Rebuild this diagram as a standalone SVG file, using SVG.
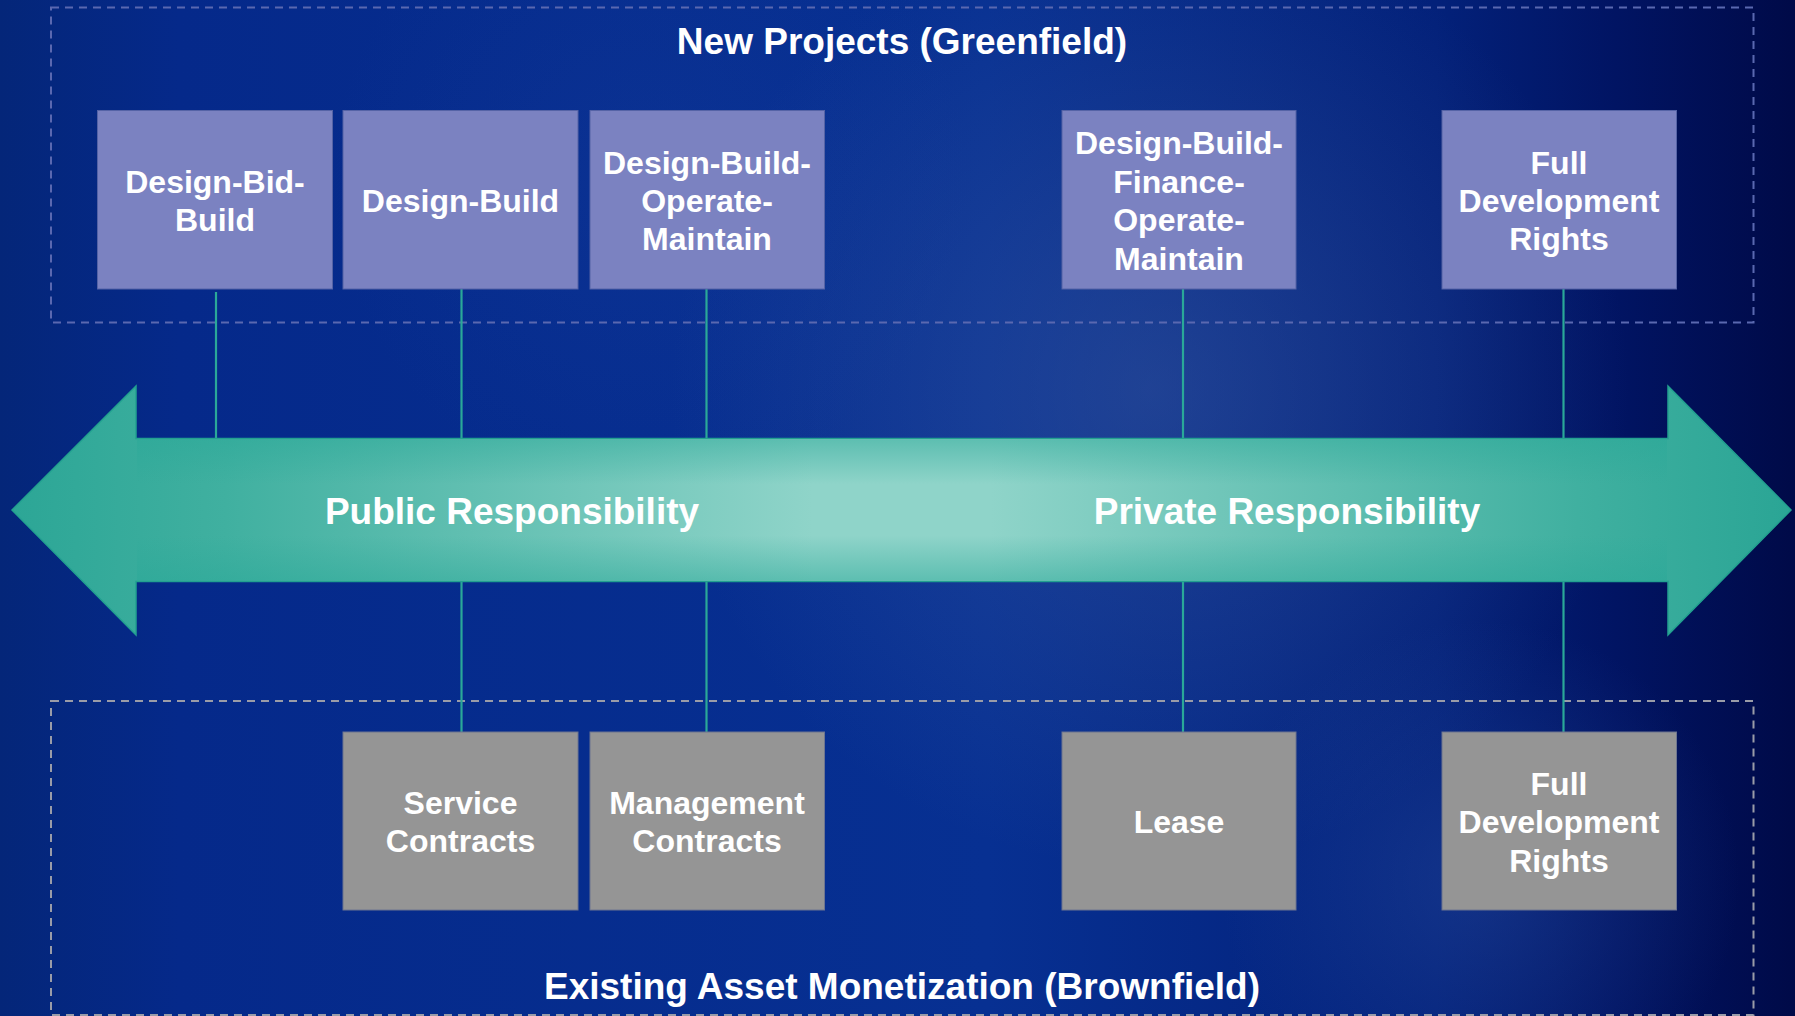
<svg xmlns="http://www.w3.org/2000/svg" width="1795" height="1016" viewBox="0 0 1795 1016">
  <defs>
    <linearGradient id="bgBase" x1="0" y1="0" x2="1795" y2="0" gradientUnits="userSpaceOnUse">
      <stop offset="0" stop-color="#042679"/>
      <stop offset="0.1" stop-color="#05298a"/>
      <stop offset="0.55" stop-color="#073092"/>
      <stop offset="0.8" stop-color="#03217a"/>
      <stop offset="0.9" stop-color="#011463"/>
      <stop offset="1" stop-color="#000a48"/>
    </linearGradient>
    <radialGradient id="glowMid" cx="1150" cy="390" r="480" gradientUnits="userSpaceOnUse">
      <stop offset="0" stop-color="#4a68a6" stop-opacity="0.38"/>
      <stop offset="1" stop-color="#4a68a6" stop-opacity="0"/>
    </radialGradient>
    <radialGradient id="glowLow" cx="1480" cy="880" r="260" gradientUnits="userSpaceOnUse">
      <stop offset="0" stop-color="#3158aa" stop-opacity="0.35"/>
      <stop offset="1" stop-color="#3158aa" stop-opacity="0"/>
    </radialGradient>
    <radialGradient id="glowTop" cx="650" cy="180" r="320" gradientUnits="userSpaceOnUse">
      <stop offset="0" stop-color="#1a40a0" stop-opacity="0.25"/>
      <stop offset="1" stop-color="#1a40a0" stop-opacity="0"/>
    </radialGradient>
    <linearGradient id="arrowFill" x1="12" y1="0" x2="1791" y2="0" gradientUnits="userSpaceOnUse">
      <stop offset="0" stop-color="#2ca696"/>
      <stop offset="0.12" stop-color="#40b0a0"/>
      <stop offset="0.45" stop-color="#8fd4c9"/>
      <stop offset="0.55" stop-color="#8fd4c9"/>
      <stop offset="0.88" stop-color="#40b0a0"/>
      <stop offset="1" stop-color="#2aa595"/>
    </linearGradient>
    <linearGradient id="shaftShade" x1="0" y1="438.5" x2="0" y2="581.5" gradientUnits="userSpaceOnUse">
      <stop offset="0" stop-color="#2aa898" stop-opacity="0.5"/>
      <stop offset="0.32" stop-color="#2aa898" stop-opacity="0"/>
      <stop offset="0.68" stop-color="#2aa898" stop-opacity="0"/>
      <stop offset="1" stop-color="#2aa898" stop-opacity="0.5"/>
    </linearGradient>
    <style>
      text { font-family: "Liberation Sans", Arial, sans-serif; font-weight: bold; fill: #ffffff; text-anchor: middle; }
      .box-new { fill: #7b82c1; stroke: #5563a6; stroke-width: 1; }
      .box-old { fill: #959595; stroke: #6d7590; stroke-width: 1; }
      .lbl { font-size: 32px; }
      .title { font-size: 37px; }
      .resp { font-size: 37px; }
      .frame-top { fill: none; stroke: #5a68b0; stroke-width: 2; stroke-dasharray: 8 6; }
      .frame-bottom { fill: none; stroke: #9a9ca8; stroke-width: 2; stroke-dasharray: 8 6; }
      .conn { stroke: #2aa898; stroke-width: 2.2; fill: none; }
    </style>
  </defs>

  <!-- background -->
  <rect x="0" y="0" width="1795" height="1016" fill="url(#bgBase)"/>
  <rect x="0" y="0" width="1795" height="1016" fill="url(#glowTop)"/>
  <rect x="0" y="0" width="1795" height="1016" fill="url(#glowMid)"/>
  <rect x="0" y="0" width="1795" height="1016" fill="url(#glowLow)"/>

  <!-- dashed group frames -->
  <g id="frame-greenfield">
    <rect class="frame-top" x="51" y="7.5" width="1702.5" height="315"/>
    <text class="title" x="902" y="54">New Projects (Greenfield)</text>
  </g>
  <g id="frame-brownfield">
    <rect class="frame-bottom" x="51" y="701" width="1702.5" height="314"/>
    <text class="title" x="902" y="999">Existing Asset Monetization (Brownfield)</text>
  </g>

  <!-- connectors -->
  <g id="connectors">
    <line class="conn" x1="216" y1="292" x2="216" y2="438.5"/>
    <line class="conn" x1="461.5" y1="289" x2="461.5" y2="438.5"/>
    <line class="conn" x1="706.5" y1="289" x2="706.5" y2="438.5"/>
    <line class="conn" x1="1183" y1="289" x2="1183" y2="438.5"/>
    <line class="conn" x1="1563.5" y1="289" x2="1563.5" y2="438.5"/>
    <line class="conn" x1="461.5" y1="581.5" x2="461.5" y2="732"/>
    <line class="conn" x1="706.5" y1="581.5" x2="706.5" y2="732"/>
    <line class="conn" x1="1183" y1="581.5" x2="1183" y2="732"/>
    <line class="conn" x1="1563.5" y1="581.5" x2="1563.5" y2="732"/>
  </g>

  <!-- double-headed responsibility arrow -->
  <g id="responsibility-arrow">
    <polygon points="12,510 136,386 136,438.5 1668,438.5 1668,386 1791,510 1668,635 1668,581.5 136,581.5 136,635" fill="url(#arrowFill)" stroke="#22a090" stroke-width="1.5"/>
    <rect x="137" y="439.5" width="1530" height="141" fill="url(#shaftShade)"/>
    <text class="resp" x="512" y="524">Public Responsibility</text>
    <text class="resp" x="1287" y="524">Private Responsibility</text>
  </g>

  <!-- greenfield delivery models -->
  <g id="design-bid-build">
    <rect class="box-new" x="97.5" y="110.5" width="235" height="178.5"/>
    <text class="lbl" x="215" y="192.8">Design-Bid-</text>
    <text class="lbl" x="215" y="231.2">Build</text>
  </g>
  <g id="design-build">
    <rect class="box-new" x="343" y="110.5" width="235" height="178.5"/>
    <text class="lbl" x="460.5" y="212">Design-Build</text>
  </g>
  <g id="design-build-operate-maintain">
    <rect class="box-new" x="590" y="110.5" width="234.5" height="178.5"/>
    <text class="lbl" x="707" y="173.6">Design-Build-</text>
    <text class="lbl" x="707" y="212">Operate-</text>
    <text class="lbl" x="707" y="250.4">Maintain</text>
  </g>
  <g id="design-build-finance-operate-maintain">
    <rect class="box-new" x="1062" y="110.5" width="234" height="178.5"/>
    <text class="lbl" x="1179" y="154.4">Design-Build-</text>
    <text class="lbl" x="1179" y="192.8">Finance-</text>
    <text class="lbl" x="1179" y="231.2">Operate-</text>
    <text class="lbl" x="1179" y="269.6">Maintain</text>
  </g>
  <g id="full-development-rights-new">
    <rect class="box-new" x="1442" y="110.5" width="234.5" height="178.5"/>
    <text class="lbl" x="1559" y="173.6">Full</text>
    <text class="lbl" x="1559" y="212">Development</text>
    <text class="lbl" x="1559" y="250.4">Rights</text>
  </g>

  <!-- brownfield monetization models -->
  <g id="service-contracts">
    <rect class="box-old" x="343" y="732" width="235" height="178"/>
    <text class="lbl" x="460.5" y="814">Service</text>
    <text class="lbl" x="460.5" y="852.4">Contracts</text>
  </g>
  <g id="management-contracts">
    <rect class="box-old" x="590" y="732" width="234.5" height="178"/>
    <text class="lbl" x="707" y="814">Management</text>
    <text class="lbl" x="707" y="852.4">Contracts</text>
  </g>
  <g id="lease">
    <rect class="box-old" x="1062" y="732" width="234" height="178"/>
    <text class="lbl" x="1179" y="833.3">Lease</text>
  </g>
  <g id="full-development-rights-existing">
    <rect class="box-old" x="1442" y="732" width="234.5" height="178"/>
    <text class="lbl" x="1559" y="794.9">Full</text>
    <text class="lbl" x="1559" y="833.3">Development</text>
    <text class="lbl" x="1559" y="871.7">Rights</text>
  </g>
</svg>
